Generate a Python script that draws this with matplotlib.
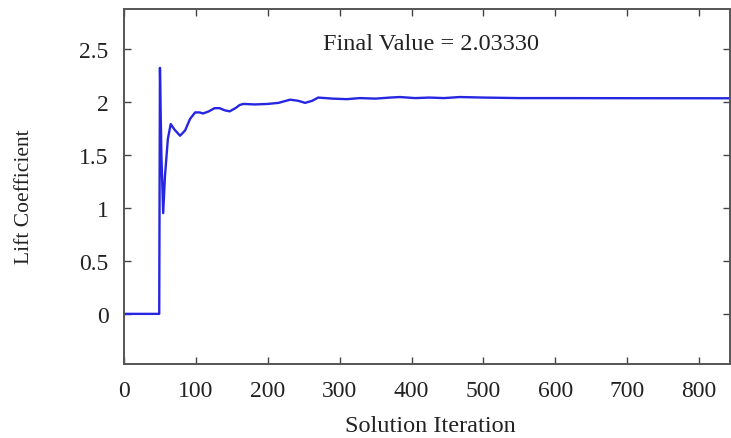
import matplotlib
matplotlib.use("Agg")
import matplotlib.pyplot as plt
from matplotlib.ticker import FuncFormatter

iterations = [0, 49, 50, 52, 54.5, 57, 61, 65, 70, 78, 85, 92, 99, 105, 110, 118, 126, 133, 140, 147, 155, 161, 166,
              182, 200, 215, 231, 242, 252, 262, 270, 290, 310, 328, 350, 370, 384, 405, 425, 445, 467, 500, 550, 600, 700, 843]
lift = [0.0, 0.0, 2.32, 1.50, 0.95, 1.30, 1.65, 1.79, 1.74, 1.68, 1.73, 1.84, 1.90, 1.90, 1.89, 1.91, 1.94, 1.94, 1.92, 1.91, 1.94, 1.97, 1.98,
        1.975, 1.98, 1.99, 2.02, 2.01, 1.99, 2.01, 2.04, 2.03, 2.025, 2.035, 2.03, 2.04, 2.045, 2.035, 2.04, 2.035, 2.045, 2.04, 2.035, 2.035, 2.034, 2.0333]

x_ticks = [0, 100, 200, 300, 400, 500, 600, 700, 800]
y_ticks = [0, 0.5, 1, 1.5, 2, 2.5]
annotation = "Final Value = 2.03330"

plt.rcParams['font.family'] = ['Liberation Serif', 'DejaVu Serif']

fig = plt.figure(figsize=(7.31, 4.39), dpi=100)
ax_h = (364.7 - 9.5) / 439
ax = fig.add_axes([124/731, 1-364.7/439, (730-124)/731, ax_h])
ax.plot(iterations, lift, color='#2626e2', linewidth=1.7)
ax.set_xlim(0, 843)
ax.set_ylim(-0.47, 2.88)
ax.set_xticks(x_ticks)
ax.set_yticks(y_ticks)
ax.yaxis.set_major_formatter(FuncFormatter(lambda v, p: ('%g' % v)))
ax.tick_params(direction='in', top=True, right=True, length=5, width=1, colors='#444444',
               labelcolor='#222222')
ax.tick_params(axis='x', labelsize=17, pad=12)
ax.tick_params(axis='y', labelsize=17, pad=11)
for s in ax.spines.values():
    s.set_color('#555555')
    s.set_linewidth(1.4)
ax.set_xlabel('Solution Iteration', fontsize=17.5, color='#222222', va='center')
ax.xaxis.set_label_coords((430 - 124) / 606, -(427 - 364.7) / 355.2)
ax.set_ylabel('Lift Coefficient', fontsize=15.5, color='#222222', va='center')
ax.yaxis.set_label_coords(-(124 - 25) / 606, (364.7 - 197) / 355.2)
ax.text(427, 2.55, annotation, fontsize=17.5, color='#222222', ha='center', va='center')
fig.savefig('out.png', dpi=100)
